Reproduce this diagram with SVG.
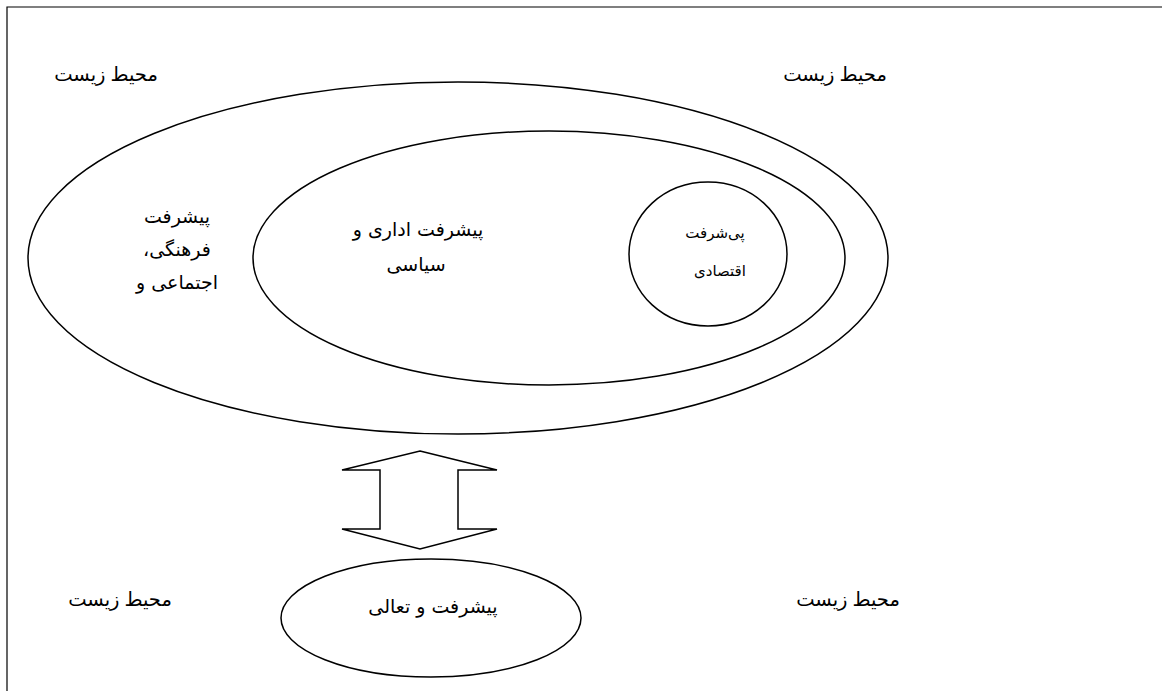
<svg xmlns="http://www.w3.org/2000/svg" width="1162" height="691" viewBox="0 0 1162 691">
<style>
.shape{fill:none;stroke:#000;stroke-width:1.5}
.t{font-family:"Liberation Serif","DejaVu Sans",serif;fill:#000;text-anchor:middle;direction:rtl}
.lbl{font-size:19.5px}
.in{font-size:19px;font-family:"DejaVu Sans",sans-serif}
.sm{font-size:15px;font-family:"DejaVu Sans",sans-serif}
</style>
<rect width="1162" height="691" fill="#fff"/>
<g id="frame"><path class="shape" style="stroke-width:1.2" d="M7 691 V7 H1162"/></g>
<g id="env-top-left"><text class="t lbl" x="106" y="81">محیط زیست</text></g>
<g id="env-top-right"><text class="t lbl" x="835" y="81">محیط زیست</text></g>
<g id="env-bottom-left"><text class="t lbl" x="120" y="606">محیط زیست</text></g>
<g id="env-bottom-right"><text class="t lbl" x="848" y="606">محیط زیست</text></g>
<g id="outer">
<ellipse class="shape" cx="458" cy="258" rx="430" ry="176"/>
<text class="t in" x="177" y="223">پیشرفت</text>
<text class="t in" x="177" y="256">فرهنگی،</text>
<text class="t in" x="177" y="289">اجتماعی و</text>
</g>
<g id="middle">
<ellipse class="shape" cx="549" cy="258" rx="296" ry="127"/>
<text class="t in" x="418" y="236">پیشرفت اداری و</text>
<text class="t in" x="416" y="271">سیاسی</text>
</g>
<g id="inner">
<ellipse class="shape" cx="708" cy="254" rx="79" ry="72"/>
<text class="t sm" x="715" y="238">پی‌شرفت</text>
<text class="t sm" x="720" y="276">اقتصادی</text>
</g>
<g id="connectors">
<path class="shape" d="M420 451 L497 470 H458 V529 H497 L420 549 L342 529 H380 V470 H342 Z"/>
</g>
<g id="result">
<ellipse class="shape" cx="431" cy="618" rx="150" ry="59"/>
<text class="t in" x="433" y="613">پیشرفت و تعالی</text>
</g>
</svg>
